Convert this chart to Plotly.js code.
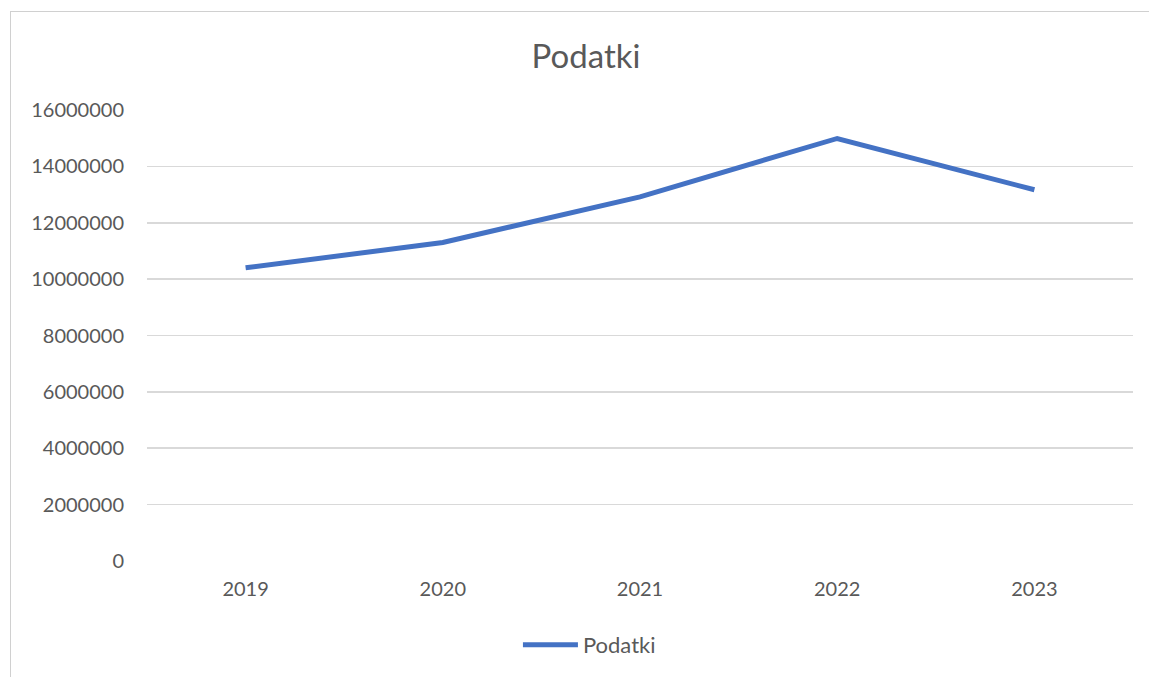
<!DOCTYPE html>
<html>
<head>
<meta charset="utf-8">
<script src="https://cdn.plot.ly/plotly-3.0.1.min.js"></script>
<style>
  html, body { margin: 0; padding: 0; background: #fff; overflow: hidden; }
  #wrap { position: relative; width: 1149px; height: 677px; }
  #chart { position: absolute; left: 0; top: 0; width: 1149px; height: 677px; }
  #frame { position: absolute; left: 10px; top: 11px; width: 1200px; height: 700px;
           border-left: 1px solid #d0d0d0; border-top: 1px solid #d0d0d0; pointer-events: none; }
</style>
</head>
<body>
<div id="wrap">
  <div id="chart"></div>
  <div id="frame"></div>
</div>
<script>
const years = ['2019', '2020', '2021', '2022', '2023'];
const podatki = [10400000, 11300000, 12920000, 14990000, 13170000];
const seriesName = 'Podatki';
const chartTitle = 'Podatki';
const yTicks = [0, 2000000, 4000000, 6000000, 8000000, 10000000, 12000000, 14000000, 16000000];

const FONT = 'Lato, "Open Sans", sans-serif';
const TEXT = '#595959';
const GRID = '#d9d9d9';

const trace = {
  type: 'scatter',
  mode: 'lines',
  x: years,
  y: podatki,
  name: seriesName,
  line: { color: '#4472c4', width: 5, shape: 'linear' },
  showlegend: true
};

const layout = {
  width: 1149,
  height: 677,
  paper_bgcolor: '#ffffff',
  plot_bgcolor: '#ffffff',
  margin: { l: 147, r: 16, t: 110, b: 116, pad: 0 },
  font: { family: FONT, color: TEXT, size: 20 },
  title: {
    text: chartTitle,
    font: { family: FONT, size: 33, color: TEXT },
    x: 0.51, xref: 'container', xanchor: 'center',
    y: 1 - 56 / 677, yref: 'container', yanchor: 'middle'
  },
  xaxis: {
    type: 'category',
    categoryorder: 'array',
    categoryarray: years,
    range: [-0.5, 4.5],
    showgrid: false,
    zeroline: false,
    showline: false,
    ticks: '',
    ticklabelstandoff: 14,
    tickfont: { family: FONT, size: 20, color: TEXT },
    fixedrange: true
  },
  yaxis: {
    range: [0, 16000000],
    tickmode: 'array',
    tickvals: yTicks,
    ticktext: yTicks.map(v => String(v)),
    showgrid: true,
    gridcolor: GRID,
    gridwidth: 1.6,
    zeroline: false,
    showline: false,
    ticks: '',
    ticklabelstandoff: 22,
    tickfont: { family: FONT, size: 20, color: TEXT },
    fixedrange: true
  },
  showlegend: true,
  legend: {
    orientation: 'h',
    x: 0.513, xref: 'container', xanchor: 'center',
    y: 1 - 645 / 677, yref: 'container', yanchor: 'middle',
    itemwidth: 55,
    font: { family: FONT, size: 22, color: TEXT },
    bgcolor: 'rgba(0,0,0,0)'
  }
};

Plotly.newPlot('chart', [trace], layout, { displayModeBar: false, staticPlot: true });
</script>
</body>
</html>
